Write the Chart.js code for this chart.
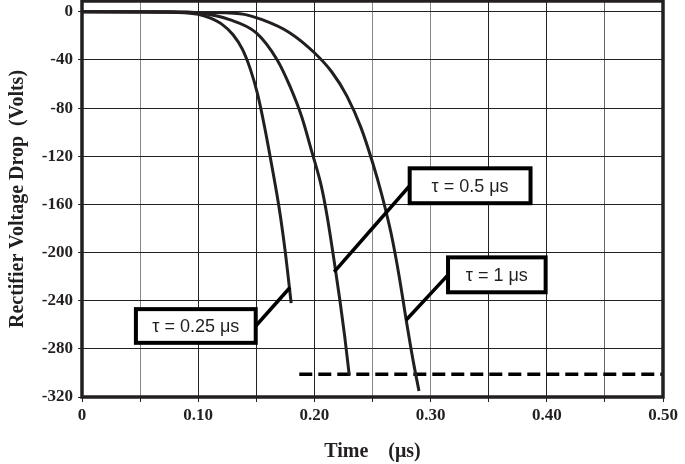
<!DOCTYPE html>
<html>
<head>
<meta charset="utf-8">
<script src="https://cdn.jsdelivr.net/npm/chart.js@4.4.0/dist/chart.umd.min.js"></script>
<style>
  html, body { margin: 0; padding: 0; background: #fff; }
  #wrap { width: 685px; height: 464px; }
</style>
</head>
<body>
<div id="wrap"><canvas id="myChart" width="685" height="464"></canvas></div>
<script>
// time in microseconds, drop in volts
const timeQuarter = [0, 0.05, 0.08, 0.10, 0.11, 0.12, 0.13, 0.138, 0.145, 0.151, 0.157, 0.163, 0.170, 0.175, 0.180];
const voltQuarter = [0, 0, -0.4, -2, -5, -10, -19, -31, -48, -68, -95, -126, -165, -200, -242];

const timeHalf = [0, 0.076, 0.101, 0.127, 0.150, 0.168, 0.179, 0.189, 0.198, 0.206, 0.211, 0.217, 0.222, 0.226, 0.230];
const voltHalf = [0, 0, -1, -6.5, -17.5, -40, -62, -87, -117, -145, -170, -207, -240, -269, -302];

const timeOne = [0, 0.101, 0.136, 0.155, 0.179, 0.200, 0.215, 0.228, 0.240, 0.250, 0.258, 0.266, 0.273, 0.279, 0.285, 0.290];
const voltOne = [0, -0.5, -1.5, -6.5, -17.5, -34, -50, -70, -96, -125, -152, -184, -220, -256, -290, -315];

const limitTime = [0.187, 0.50];
const limitVolt = [-301, -301];

const xTickValues = [0, 0.05, 0.10, 0.15, 0.20, 0.25, 0.30, 0.35, 0.40, 0.45, 0.50];
const xTickLabels = ["0", "", "0.10", "", "0.20", "", "0.30", "", "0.40", "", "0.50"];
const yTickValues = [-320, -280, -240, -200, -160, -120, -80, -40, 0];

const calloutText = ["τ = 0.25 μs", "τ = 0.5 μs", "τ = 1 μs"];
// box corners [t0, t1, v0, v1] and leader target [t, v], all in data units
const calloutBox = [
  [0.0464, 0.1495, -247, -275],
  [0.282, 0.386, -130, -159],
  [0.315, 0.399, -204, -233],
];
const calloutTarget = [[0.179, -229], [0.217, -216], [0.279, -256]];
const calloutSide = ["right", "left", "left"];

const toPoints = (xs, ys) => xs.map((x, i) => ({ x: x, y: ys[i] }));

const ink = "#231f20";
const serif = "'Liberation Serif', 'DejaVu Serif', serif";
const tickFont = { family: serif, size: 17, weight: "bold" };
const titleFont = { family: serif, size: 20, weight: "bold" };

const frame = {
  id: "frame",
  afterDatasetsDraw(chart) {
    const { ctx, chartArea: a, scales } = chart;
    ctx.save();
    ctx.strokeStyle = ink;
    ctx.lineWidth = 3.5;
    ctx.strokeRect(a.left, a.top, a.right - a.left, a.bottom - a.top);

    ctx.font = "18px 'Liberation Sans', Arial, sans-serif";
    ctx.textAlign = "center";
    ctx.textBaseline = "middle";
    calloutBox.forEach((b, i) => {
      const x0 = scales.x.getPixelForValue(b[0]);
      const x1 = scales.x.getPixelForValue(b[1]);
      const y0 = scales.y.getPixelForValue(b[2]);
      const y1 = scales.y.getPixelForValue(b[3]);
      const tx = scales.x.getPixelForValue(calloutTarget[i][0]);
      const ty = scales.y.getPixelForValue(calloutTarget[i][1]);
      const sx = calloutSide[i] === "right" ? x1 : x0;
      const sy = (y0 + y1) / 2;
      ctx.lineWidth = 3.5;
      ctx.strokeStyle = "#000";
      ctx.beginPath();
      ctx.moveTo(sx, sy);
      ctx.lineTo(tx, ty);
      ctx.stroke();
      ctx.fillStyle = "#fff";
      ctx.fillRect(x0, y0, x1 - x0, y1 - y0);
      ctx.lineWidth = 4;
      ctx.strokeRect(x0, y0, x1 - x0, y1 - y0);
      ctx.fillStyle = ink;
      ctx.fillText(calloutText[i], (x0 + x1) / 2, sy + 1);
    });
    ctx.restore();
  },
};

const curveStyle = {
  borderColor: ink,
  borderWidth: 3,
  pointRadius: 0,
  fill: false,
  cubicInterpolationMode: "monotone",
  showLine: true,
};

const vGridColors = ["#222", "#888", "#222", "#222", "#222", "#888", "#888", "#222", "#222", "#666", "#222"];

const myChart = new Chart(document.getElementById("myChart"), {
  type: "scatter",
  data: {
    datasets: [
      Object.assign({ label: calloutText[0], data: toPoints(timeQuarter, voltQuarter) }, curveStyle),
      Object.assign({ label: calloutText[1], data: toPoints(timeHalf, voltHalf) }, curveStyle),
      Object.assign({ label: calloutText[2], data: toPoints(timeOne, voltOne) }, curveStyle),
      {
        label: "limit",
        data: toPoints(limitTime, limitVolt),
        showLine: true,
        borderColor: "#000",
        borderWidth: 3.5,
        borderDash: [13, 6],
        pointRadius: 0,
      },
    ],
  },
  options: {
    responsive: false,
    animation: false,
    layout: { padding: { top: 1, right: 22, bottom: 0, left: 0 } },
    plugins: { legend: { display: false }, tooltip: { enabled: false } },
    scales: {
      x: {
        type: "linear",
        min: 0,
        max: 0.5,
        afterBuildTicks: (scale) => {
          scale.ticks = xTickValues.map((v) => ({ value: v }));
        },
        afterFit: (scale) => { scale.height = 67; },
        ticks: {
          color: ink,
          font: tickFont,
          padding: 3,
          maxRotation: 0,
          autoSkip: false,
          callback: (v, i) => xTickLabels[i],
        },
        grid: {
          color: (c) => vGridColors[c.index] || "#444",
          lineWidth: 1,
          tickLength: 5,
          tickColor: ink,
        },
        border: { display: false },
        title: {
          display: true,
          text: "Time    (μs)",
          color: ink,
          font: titleFont,
          padding: { top: 4, bottom: 0 },
        },
      },
      y: {
        min: -320,
        max: 9,
        afterBuildTicks: (scale) => {
          scale.ticks = yTickValues.map((v) => ({ value: v }));
        },
        afterFit: (scale) => {
          scale.width = 82;
          scale.paddingTop = 0;
          scale.paddingBottom = 0;
        },
        ticks: {
          color: ink,
          font: tickFont,
          padding: 5,
          callback: (v) => String(v),
        },
        grid: {
          color: "#222",
          lineWidth: 1,
          tickLength: 4,
          tickColor: ink,
        },
        border: { display: false },
        title: {
          display: true,
          text: "Rectifier Voltage Drop  (Volts)",
          color: ink,
          font: titleFont,
          padding: { top: 6, bottom: 0 },
        },
      },
    },
  },
  plugins: [frame],
});
</script>
</body>
</html>
